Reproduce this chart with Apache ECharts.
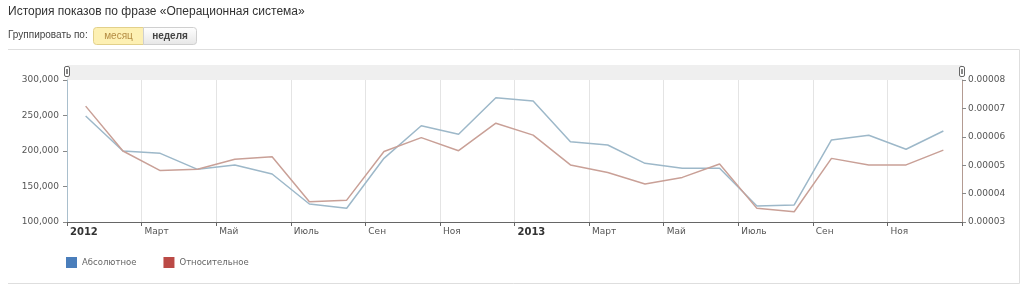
<!DOCTYPE html>
<html><head><meta charset="utf-8">
<script src="https://cdn.jsdelivr.net/npm/echarts@6/dist/echarts.min.js"></script>
<style>html,body{margin:0;padding:0;background:#fff}#c{width:1024px;height:291px}</style>
</head><body><div id="c"></div>
<script>
// months Jan 2012 .. Dec 2013 (index 0..23), values at mid-month
const months = ['2012-01','2012-02','2012-03','2012-04','2012-05','2012-06','2012-07','2012-08','2012-09','2012-10','2012-11','2012-12',
  '2013-01','2013-02','2013-03','2013-04','2013-05','2013-06','2013-07','2013-08','2013-09','2013-10','2013-11','2013-12'];
const absoluteValues = [249300,200000,196700,174200,180300,167600,125400,119300,189700,235600,223500,275100,
  270400,213100,208400,182600,175600,175600,122500,124000,215500,222100,202400,228200];
const relativeValues = [0.0000708,0.0000550,0.0000481,0.0000486,0.0000521,0.0000530,0.0000371,0.0000377,0.0000548,0.0000597,0.0000551,0.0000648,
  0.0000606,0.0000501,0.0000474,0.0000434,0.0000457,0.0000504,0.0000348,0.0000336,0.0000524,0.0000501,0.0000501,0.0000553];
const xTickLabels = ['2012','Март','Май','Июль','Сен','Ноя','2013','Март','Май','Июль','Сен','Ноя',''];
const seriesNames = ['Абсолютное','Относительное'];

const chart = echarts.init(document.getElementById('c'), null, {renderer:'canvas'});
const absData = absoluteValues.map((v,i)=>[i+0.5, v]);
const relData = relativeValues.map((v,i)=>[i+0.5, v]);
const F = 'DejaVu Sans';

chart.setOption({
  animation:false,
  grid:{left:67, right:62, top:80, bottom:69},
  xAxis:{type:'value', min:0, max:24, interval:2,
    axisLine:{show:true, onZero:false, lineStyle:{color:'#666', width:1}},
    axisTick:{show:true, length:4, lineStyle:{color:'#666'}},
    splitLine:{show:true, lineStyle:{color:'#e4e4e4'}},
    axisLabel:{align:'left', margin:5, padding:[0,0,0,3], fontFamily:F, fontSize:9, color:'#555',
      formatter:(v)=>{const s=xTickLabels[Math.round(v/2)]||''; return /^\d{4}$/.test(s)?'{b|'+s+'}':s;},
      rich:{b:{fontWeight:'bold', fontSize:10, color:'#333', fontFamily:F}}}
  },
  yAxis:[
    {type:'value', min:100000, max:300000, interval:50000, position:'left',
      axisLine:{show:true, lineStyle:{color:'#a9bfcd'}},
      axisTick:{show:true, length:4, lineStyle:{color:'#888'}},
      splitLine:{show:false},
      axisLabel:{margin:8, fontFamily:F, fontSize:9, color:'#555', formatter:v=>v.toLocaleString('en-US')}},
    {type:'value', min:0.00003, max:0.00008, interval:0.00001, position:'right',
      axisLine:{show:true, lineStyle:{color:'#b39b92'}},
      axisTick:{show:true, length:4, lineStyle:{color:'#888'}},
      splitLine:{show:false},
      axisLabel:{margin:6, fontFamily:F, fontSize:9, color:'#555', formatter:v=>v.toFixed(5)}}
  ],
  legend:{left:61, top:252, icon:'rect', itemWidth:11, itemHeight:11, itemGap:27,
    textStyle:{fontFamily:F, fontSize:8.5, color:'#666'},
    data:[{name:seriesNames[0], itemStyle:{color:'#4a7ebb'}},{name:seriesNames[1], itemStyle:{color:'#bb4a46'}}]},
  series:[
    {name:seriesNames[0], type:'line', yAxisIndex:0, data:absData, showSymbol:false, symbol:'none',
      itemStyle:{color:'#4a7ebb'}, lineStyle:{color:'#9db8c9', width:1.5}},
    {name:seriesNames[1], type:'line', yAxisIndex:1, data:relData, showSymbol:false, symbol:'none',
      itemStyle:{color:'#bb4a46'}, lineStyle:{color:'#c9a097', width:1.5}}
  ],
  graphic:[
    {type:'text', left:8, top:6, style:{text:'История показов по фразе «Операционная система»', font:'12px "Liberation Sans", Arial', fill:'#333'}},
    {type:'text', left:8, top:30, style:{text:'Группировать по:', font:'10px "Liberation Sans", Arial', fill:'#444'}},
    {type:'rect', shape:{x:93.5, y:27.5, width:50, height:17, r:[3,0,0,3]}, style:{fill:'#fdf0b3', stroke:'#e2d08a'}},
    {type:'text', x:118.5, y:36, style:{text:'месяц', font:'10px "Liberation Sans", Arial', fill:'#b48c42', align:'center', verticalAlign:'middle'}},
    {type:'rect', shape:{x:143.5, y:27.5, width:53, height:17, r:[0,3,3,0]},
      style:{stroke:'#cfcfcf', fill:new echarts.graphic.LinearGradient(0,0,0,1,[{offset:0,color:'#ffffff'},{offset:1,color:'#e6e6e6'}])}},
    {type:'text', x:170, y:36, style:{text:'неделя', font:'bold 10px "Liberation Sans", Arial', fill:'#444', align:'center', verticalAlign:'middle'}},
    {type:'polyline', shape:{points:[[8,49.5],[1019.5,49.5],[1019.5,283.5],[8,283.5]]}, style:{stroke:'#dedede', fill:null, lineWidth:1}},
    {type:'rect', shape:{x:67, y:65, width:895, height:15}, style:{fill:'#efefef'}},
    {type:'rect', shape:{x:64.5, y:66.5, width:5, height:10, r:1.5}, style:{fill:'#fff', stroke:'#666'}},
    {type:'rect', shape:{x:66, y:69, width:2, height:5}, style:{fill:'#888'}},
    {type:'rect', shape:{x:959.5, y:66.5, width:5, height:10, r:1.5}, style:{fill:'#fff', stroke:'#666'}},
    {type:'rect', shape:{x:961, y:69, width:2, height:5}, style:{fill:'#888'}}
  ]
});
</script></body></html>
